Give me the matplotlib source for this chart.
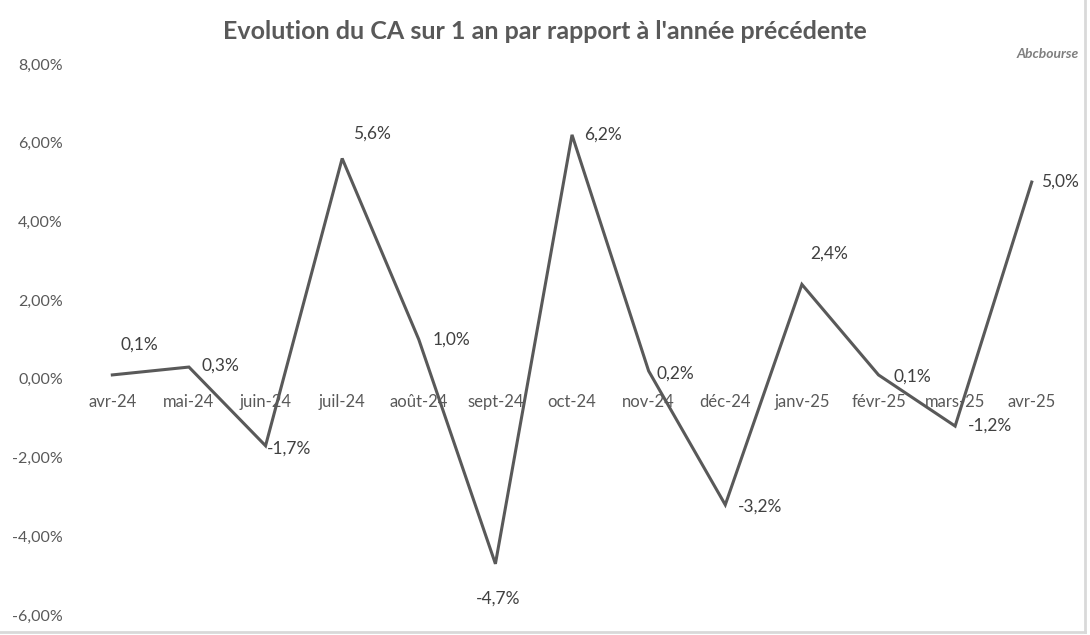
import matplotlib.pyplot as plt
from matplotlib.ticker import FuncFormatter

plt.rcParams['font.family'] = ['Lato', 'DejaVu Sans']

months = ["avr-24", "mai-24", "juin-24", "juil-24", "août-24", "sept-24", "oct-24",
          "nov-24", "déc-24", "janv-25", "févr-25", "mars-25", "avr-25"]
ca_growth = [0.1, 0.3, -1.7, 5.6, 1.0, -4.7, 6.2, 0.2, -3.2, 2.4, 0.1, -1.2, 5.0]

# label offsets (points) from each point
label_offsets = [(6, 22), (9, 1), (1, -2), (8, 18), (10, 0), (-14, -25), (9, 0),
                 (6, -2), (9, -1), (6, 22), (11, -1), (9, 0), (7, 0)]

grey = "#595959"

fig = plt.figure(figsize=(10.9, 6.35), dpi=100)
ax = fig.add_axes([0.0679, 0.0315, 0.9138, 0.8677])

x = list(range(len(months)))
ax.plot(x, ca_growth, color=grey, linewidth=2.2, solid_joinstyle="miter")

for i, v in enumerate(ca_growth):
    dx, dy = label_offsets[i]
    ax.annotate(f"{v:.1f}%".replace(".", ","), (i, v), xytext=(dx, dy),
                textcoords="offset points", ha="left", va="center",
                fontsize=12.5, color="#404040")

ax.set_xlim(-0.5, len(months) - 0.5)
ax.set_ylim(-6, 8)
ax.set_yticks([-6, -4, -2, 0, 2, 4, 6, 8])
ax.yaxis.set_major_formatter(FuncFormatter(lambda v, p: f"{v:.2f}%".replace(".", ",")))
ax.tick_params(axis="y", length=0, labelsize=11.5, labelcolor=grey, pad=8)
ax.set_xticks([])

for i, m in enumerate(months):
    ax.text(i, -0.6, m, ha="center", va="center", fontsize=12, color=grey)

for s in ax.spines.values():
    s.set_visible(False)

fig.text(0.5, 0.951, "Evolution du CA sur 1 an par rapport à l'année précédente",
         ha="center", va="center", fontsize=18, fontweight="bold", color=grey)
fig.text(0.99, 0.915, "Abcbourse", ha="right", va="center", fontsize=10,
         fontstyle="italic", fontweight="bold", color="#7f7f7f")

# thin frame on right and bottom
fig.add_artist(plt.Line2D([0.9955, 0.9955], [0.005, 1], color="#d9d9d9", lw=2,
                          transform=fig.transFigure))
fig.add_artist(plt.Line2D([0, 0.9955], [0.005, 0.005], color="#d9d9d9", lw=2,
                          transform=fig.transFigure))

fig.savefig("out.png", dpi=100)
